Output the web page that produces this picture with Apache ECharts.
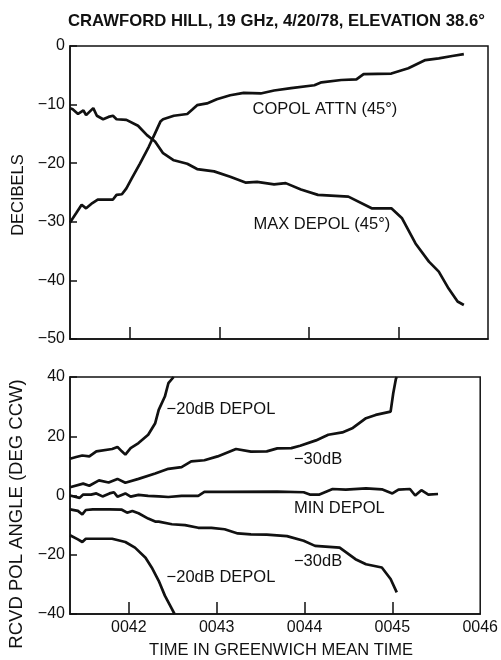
<!DOCTYPE html>
<html>
<head>
<meta charset="utf-8">
<script src="https://cdn.jsdelivr.net/npm/echarts@6/dist/echarts.min.js"></script>
<style>
html, body { margin: 0; padding: 0; background: #fff; }
#main { width: 501px; height: 660px; }
</style>
</head>
<body>
<div id="main"></div>
<script>
// time in minutes after 00 GMT
var copolAttn = [[41.33,-30.1],[41.40,-28.5],[41.46,-27.1],[41.51,-27.7],[41.58,-26.8],[41.64,-26.2],[41.81,-26.2],[41.85,-25.4],[41.91,-25.3],[41.96,-24.3],[42.02,-22.6],[42.11,-20.1],[42.21,-17.2],[42.28,-14.9],[42.34,-12.9],[42.37,-12.5],[42.49,-11.9],[42.64,-11.6],[42.70,-10.8],[42.75,-10.1],[42.86,-9.8],[42.97,-9.1],[43.12,-8.4],[43.27,-8.0],[43.46,-8.1],[43.61,-7.6],[43.80,-7.2],[44.06,-6.7],[44.14,-6.2],[44.36,-5.8],[44.53,-5.7],[44.61,-4.8],[44.92,-4.7],[45.11,-3.8],[45.30,-2.4],[45.45,-2.1],[45.60,-1.7],[45.73,-1.4]];
var maxDepol = [[41.33,-10.6],[41.36,-10.8],[41.42,-11.6],[41.48,-11.0],[41.51,-11.8],[41.55,-11.2],[41.59,-10.6],[41.63,-11.9],[41.70,-12.5],[41.76,-12.1],[41.81,-11.9],[41.85,-12.5],[41.96,-12.6],[42.09,-13.6],[42.19,-15.2],[42.28,-16.3],[42.37,-18.3],[42.49,-19.5],[42.64,-20.1],[42.75,-21.0],[42.94,-21.4],[43.12,-22.3],[43.29,-23.3],[43.42,-23.2],[43.61,-23.6],[43.74,-23.4],[43.91,-24.5],[44.10,-25.4],[44.44,-25.7],[44.70,-27.7],[44.92,-27.7],[45.04,-29.4],[45.19,-33.7],[45.34,-36.8],[45.45,-38.5],[45.56,-41.4],[45.66,-43.6],[45.73,-44.2]];

var dep20Up = [[41.33,12.4],[41.40,13.0],[41.47,13.5],[41.55,13.2],[41.63,14.9],[41.81,15.7],[41.87,16.4],[41.92,14.9],[41.96,13.8],[42.02,16.0],[42.11,17.7],[42.22,20.5],[42.30,24.4],[42.34,28.9],[42.41,33.4],[42.45,37.9],[42.51,40]];
var dep30Up = [[41.33,2.8],[41.48,4.0],[41.55,3.3],[41.66,5.1],[41.77,4.4],[41.87,5.6],[41.96,4.3],[42.11,5.6],[42.30,7.4],[42.45,9.0],[42.60,9.6],[42.71,11.5],[42.86,11.9],[43.01,13.2],[43.22,15.7],[43.39,14.8],[43.57,14.9],[43.69,15.9],[43.85,16.0],[43.95,16.8],[44.13,18.6],[44.27,20.5],[44.43,21.3],[44.55,22.8],[44.70,26.1],[44.81,27.2],[44.98,28.3],[45.01,34.5],[45.04,39.3],[45.05,40]];
var minDepol = [[41.33,0.0],[41.44,-0.8],[41.48,0.3],[41.57,0.3],[41.63,0.7],[41.70,-0.3],[41.78,0.7],[41.83,1.1],[41.87,-0.4],[41.96,0.7],[42.02,-0.4],[42.11,0.2],[42.22,-0.1],[42.34,-0.3],[42.45,-0.5],[42.60,-0.1],[42.79,-0.1],[42.86,1.2],[43.09,1.2],[43.69,1.3],[43.99,1.1],[44.06,0.3],[44.17,0.3],[44.32,2.2],[44.47,2.0],[44.70,2.4],[44.88,2.1],[45.00,0.7],[45.07,2.0],[45.20,2.2],[45.26,0.0],[45.33,1.8],[45.41,0.3],[45.52,0.5]];
var dep30Low = [[41.33,-4.7],[41.42,-5.2],[41.47,-6.4],[41.51,-4.9],[41.59,-4.7],[41.78,-4.7],[41.92,-4.8],[41.98,-5.8],[42.04,-5.2],[42.11,-6.0],[42.22,-7.8],[42.30,-8.8],[42.34,-8.8],[42.49,-9.7],[42.64,-10.0],[42.79,-10.9],[42.94,-10.9],[43.09,-11.4],[43.24,-12.8],[43.39,-13.1],[43.57,-13.2],[43.80,-13.7],[43.99,-15.3],[44.12,-17.0],[44.40,-17.6],[44.58,-21.5],[44.70,-23.2],[44.88,-24.3],[44.98,-28.2],[45.05,-32.7]];
var dep20Low = [[41.33,-13.4],[41.42,-14.8],[41.47,-15.7],[41.51,-14.6],[41.63,-14.6],[41.81,-14.6],[41.96,-15.7],[42.07,-17.6],[42.19,-21.0],[42.26,-24.3],[42.34,-28.8],[42.41,-33.8],[42.49,-38.3],[42.52,-40]];

var timeTicks = [42, 43, 44, 45, 46];
var tickMarks = [42, 43, 44, 45];

// curve labels: [grid, x, y, text]
var curveLabels = [
	[0, 43.37, -10.8, 'COPOL ATTN (45°)'],
	[0, 43.38, -30.4, 'MAX DEPOL (45°)'],
	[1, 42.43, 29.2, '\u221220dB DEPOL'],
	[1, 42.43, -27.6, '\u221220dB DEPOL'],
	[1, 43.88, 12.1, '\u221230dB'],
	[1, 43.88, -4.4, 'MIN DEPOL'],
	[1, 43.88, -22.2, '\u221230dB']
];

var font = 'Liberation Sans';
var ink = '#111';

function minus(v){
	return String(v).replace('-', '\u2212');
}

function xAxisOf(idx, showLabels){
	return {
		type: 'value', gridIndex: idx, min: 41.33, max: 46,
		axisLine: {show: true, onZero: false, lineStyle: {color: ink, width: 1.5}},
		axisTick: {show: true, inside: true, length: 12, customValues: tickMarks, lineStyle: {color: ink, width: 1.5}},
		axisLabel: {show: showLabels, customValues: timeTicks, margin: 6, color: ink, fontFamily: font, fontSize: 16,
			formatter: function(v){ return '00' + Math.round(v); }},
		splitLine: {show: false},
		name: showLabels ? 'TIME IN GREENWICH MEAN TIME' : '',
		nameLocation: 'middle', nameGap: 28,
		nameTextStyle: {color: ink, fontFamily: font, fontSize: 16.5, padding: [0, 0, 0, 12]}
	};
}

function yAxisOf(idx, min, max, step){
	return {
		type: 'value', gridIndex: idx, min: min, max: max, interval: step,
		axisLine: {show: true, lineStyle: {color: ink, width: 1.5}},
		axisTick: {show: true, inside: true, length: 7, lineStyle: {color: ink, width: 1.5}},
		axisLabel: {margin: 5, color: ink, fontFamily: font, fontSize: 16, formatter: minus},
		splitLine: {show: false}
	};
}

function lineOf(data, xi){
	return {
		type: 'line', xAxisIndex: xi, yAxisIndex: xi, data: data,
		showSymbol: false, smooth: false, clip: true,
		lineStyle: {color: ink, width: 2.7}
	};
}

var chart = echarts.init(document.getElementById('main'), null, {renderer: 'canvas'});

var option = {
	backgroundColor: '#fff',
	animation: false,
	title: {
		text: 'CRAWFORD HILL, 19 GHz, 4/20/78, ELEVATION 38.6°',
		left: 63, top: 8,
		textStyle: {color: ink, fontFamily: font, fontSize: 16.7, fontWeight: 'bold'}
	},
	grid: [
		{left: 70, top: 46, width: 418, height: 293, show: true, borderColor: ink, borderWidth: 1.5, backgroundColor: 'transparent'},
		{left: 70, top: 377, width: 417, height: 238, show: true, borderColor: ink, borderWidth: 1.5, backgroundColor: 'transparent'}
	],
	xAxis: [xAxisOf(0, false), xAxisOf(1, true)],
	yAxis: [
		yAxisOf(0, -50, 0, 10),
		yAxisOf(1, -40, 40, 20)
	],
	series: [
		lineOf(copolAttn, 0),
		lineOf(maxDepol, 0),
		lineOf(dep20Up, 1),
		lineOf(dep30Up, 1),
		lineOf(minDepol, 1),
		lineOf(dep30Low, 1),
		lineOf(dep20Low, 1)
	]
};

chart.setOption(option);

var labels = curveLabels.map(function(l){
	var p = chart.convertToPixel({gridIndex: l[0]}, [l[1], l[2]]);
	return {
		type: 'text', x: p[0], y: p[1],
		style: {text: l[3], fill: ink, font: '16.5px "' + font + '"', verticalAlign: 'middle', align: 'left'}
	};
});
// vertical axis titles (the lower one runs past the bottom of its plot in the original)
labels.push({
	type: 'text', x: 18, y: 195, rotation: Math.PI / 2,
	style: {text: 'DECIBELS', fill: ink, font: '16.5px "' + font + '"', align: 'center', verticalAlign: 'middle'}
});
labels.push({
	type: 'text', x: 17, y: 514, rotation: Math.PI / 2,
	style: {text: 'RCVD POL ANGLE (DEG CCW)', fill: ink, font: '18.5px "' + font + '"', align: 'center', verticalAlign: 'middle'}
});
chart.setOption({graphic: labels});
</script>
</body>
</html>
